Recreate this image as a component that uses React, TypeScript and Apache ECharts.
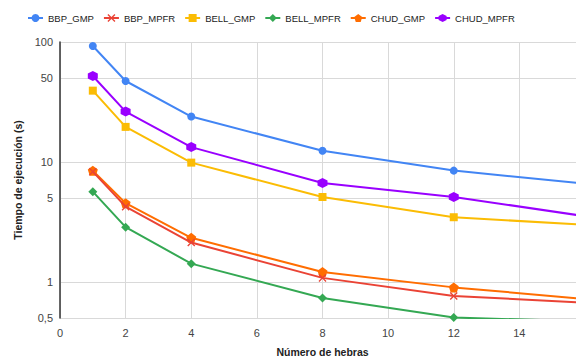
import React, { useEffect, useRef } from "react";
import * as echarts from "echarts";

const threads = [1, 2, 4, 8, 12, 16];
const seriesNames = ["BBP_GMP", "BBP_MPFR", "BELL_GMP", "BELL_MPFR", "CHUD_GMP", "CHUD_MPFR"];
const bbpGmp = [92.6, 47.3, 23.9, 12.4, 8.47, 6.6];
const bbpMpfr = [8.3, 4.24, 2.13, 1.08, 0.764, 0.67];
const bellGmp = [39.3, 19.6, 9.87, 5.1, 3.46, 2.99];
const bellMpfr = [5.65, 2.86, 1.42, 0.735, 0.504, 0.47];
const chudGmp = [8.46, 4.53, 2.33, 1.21, 0.9, 0.72];
const chudMpfr = [52.1, 26.3, 13.3, 6.68, 5.11, 3.53];
const yTicks = [0.5, 1, 5, 10, 50, 100];

const colors = ["#4285F4", "#EA4335", "#FBBC04", "#34A853", "#FF6D01", "#9900FF"];
const X_PATH = "path://M0,1.2 L1.2,0 L5,3.8 L8.8,0 L10,1.2 L6.2,5 L10,8.8 L8.8,10 L5,6.2 L1.2,10 L0,8.8 L3.8,5 Z";
const PENT_PATH = "path://M5,0 L10,3.8 L8.1,10 L1.9,10 L0,3.8 Z";
const HEX_PATH = "path://M5,0 L9.33,2.5 L9.33,7.5 L5,10 L0.67,7.5 L0.67,2.5 Z";
const symbols = ["circle", X_PATH, "rect", "diamond", PENT_PATH, HEX_PATH];
const symbolSizes = [8, 8, 8, 9, 10, 10];
const allValues = [bbpGmp, bbpMpfr, bellGmp, bellMpfr, chudGmp, chudMpfr];

export default function App() {
  const ref = useRef<HTMLDivElement>(null);
  useEffect(() => {
    if (!ref.current) return;
    const chart = echarts.init(ref.current, undefined, { renderer: "svg" });
    const font = "Arial, 'Liberation Sans', sans-serif";
    chart.setOption({
      animation: false,
      textStyle: { fontFamily: font },
      legend: {
        left: 22,
        top: 8,
        itemWidth: 15,
        itemHeight: 10,
        itemGap: 9,
        textStyle: { fontSize: 9.5, color: "#222", fontFamily: font },
        data: seriesNames,
      },
      grid: { left: 60, right: -9, top: 42, bottom: 39, outerBoundsMode: "none", containLabel: false },
      xAxis: {
        type: "value",
        min: 0,
        max: 16,
        interval: 2,
        name: "Número de hebras",
        nameLocation: "middle",
        nameGap: 28,
        nameTextStyle: { fontSize: 10.5, fontWeight: "bold", color: "#222" },
        axisLine: { show: false },
        axisTick: { show: false },
        axisLabel: { fontSize: 11, color: "#444", margin: 9, showMaxLabel: false },
        splitLine: { show: true, lineStyle: { color: "#d9d9d9", width: 1 } },
      },
      yAxis: {
        type: "log",
        logBase: 10,
        min: 0.5,
        max: 100,
        name: "Tiempo de ejecución (s)",
        nameLocation: "middle",
        nameGap: 31,
        nameTextStyle: { fontSize: 10.5, fontWeight: "bold", color: "#222" },
        axisLine: { show: true, lineStyle: { color: "#333", width: 1.5 } },
        axisTick: { show: false, customValues: yTicks },
        axisLabel: {
          fontSize: 11,
          color: "#444",
          margin: 7,
          customValues: yTicks,
          formatter: (v: number) => String(v).replace(".", ","),
        },
        splitLine: { show: true, lineStyle: { color: "#d9d9d9", width: 1 } },
      },
      series: seriesNames.map((name, i) => ({
        name,
        type: "line",
        data: threads.map((t, j) => [t, allValues[i][j]]),
        symbol: symbols[i],
        symbolSize: symbolSizes[i],
        showAllSymbol: true,
        itemStyle: { color: colors[i] },
        lineStyle: { color: colors[i], width: 2 },
        emphasis: { disabled: true },
        z: 10 - i,
      })),
    });
    return () => chart.dispose();
  }, []);
  return (
    <div
      ref={ref}
      style={{ position: "fixed", left: 0, top: 0, width: 576, height: 357, background: "#fff" }}
    />
  );
}
